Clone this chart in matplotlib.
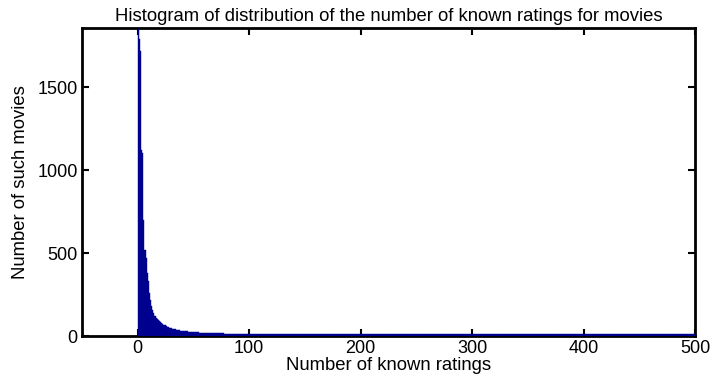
import numpy as np
import matplotlib.pyplot as plt

# counts per single-rating bin, ratings 0..99
head_counts = [1850, 1790, 1720, 1120, 1100, 700, 520, 470, 380, 330,
               260, 215, 180, 155, 138, 124, 112, 101, 94, 88,
               84, 78, 73, 69, 64, 60, 57, 53, 50, 48,
               46, 44, 42, 41, 39, 38, 36, 35, 33, 32,
               31, 30, 29, 29, 28, 27, 26, 26, 25, 24,
               24, 23, 23, 22, 22, 21, 21, 21, 20, 20,
               20, 19, 19, 19, 18, 18, 18, 17, 17, 17,
               17, 16, 16, 16, 16, 16, 16, 15, 15, 15,
               15, 15, 15, 15, 15, 14, 14, 14, 14, 14,
               14, 14, 14, 14, 14, 14, 14, 14, 14, 14]

# tail: average count per bin for 10-rating groups, ratings 100..499
tail_starts = list(range(100, 500, 10))
tail_counts = [14, 14, 14, 14, 13, 13, 13, 13, 13, 13,
               13, 12, 12, 12, 12, 12, 12, 12, 12, 12,
               12, 12, 12, 11, 11, 11, 11, 11, 11, 11,
               11, 11, 11, 11, 11, 11, 11, 11, 11, 11]

bar_color = '#00008F'

plt.rcParams['font.family'] = ['Liberation Sans', 'DejaVu Sans']

fig = plt.figure(figsize=(7.13, 3.85), dpi=100)
ax = fig.add_axes([0.115, 0.127, 0.86, 0.80])

ax.bar(np.arange(len(head_counts)), head_counts, width=1.0, align='edge',
       color=bar_color, edgecolor=bar_color, linewidth=0.3, zorder=3)
ax.bar(tail_starts, tail_counts, width=10, align='edge',
       color=bar_color, edgecolor=bar_color, linewidth=0.3, zorder=3)

ax.set_xlim(-50, 500)
ax.set_ylim(0, 1855)
ax.set_xticks([0, 100, 200, 300, 400, 500])
ax.set_yticks([0, 500, 1000, 1500])

ax.tick_params(direction='in', length=5, width=1.5, top=True, right=True,
               labelsize=13, pad=3)
for s in ax.spines.values():
    s.set_linewidth(2.0)

ax.set_title('Histogram of distribution of the number of known ratings for movies',
             fontsize=13.3, pad=5)
ax.set_xlabel('Number of known ratings', fontsize=13.3, labelpad=0)
ax.set_ylabel('Number of such movies', fontsize=13.3, labelpad=6)

fig.savefig('out.png', dpi=100)
